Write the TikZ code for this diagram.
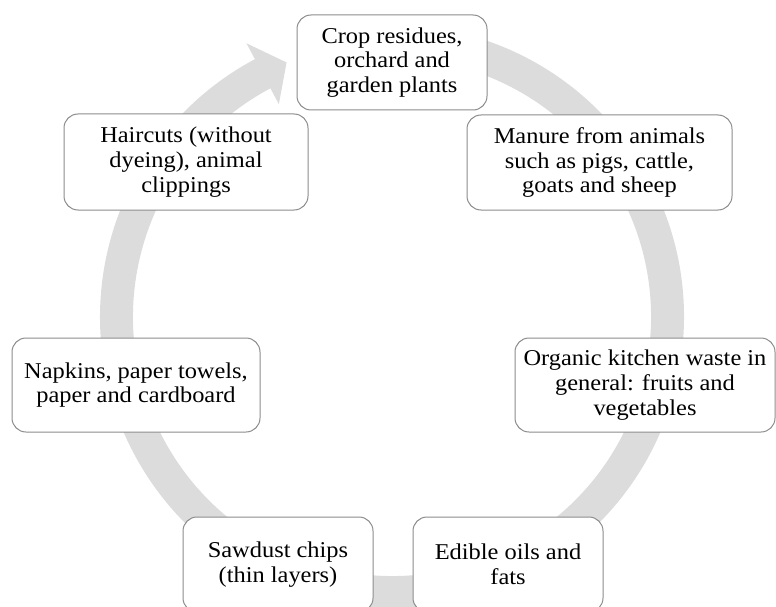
\documentclass[tikz,border=0pt]{standalone}
\usepackage{fontspec}
\setmainfont{Liberation Serif}[FakeStretch=1.08]
\definecolor{ringc}{RGB}{220,220,220}
\definecolor{boxc}{RGB}{140,140,140}
\tikzset{
  box/.style={draw=boxc, line width=1pt, rounded corners=14pt, fill=white,
    align=center, inner sep=0pt, font=\fontsize{22.6}{24.8}\selectfont}
}
\begin{document}
\begin{tikzpicture}[x=1pt,y=1pt]
\clip (0,0) rectangle (776,-607);
% circular arrow
\begin{scope}[shift={(392,-317)}]
\fill[ringc] (118:259pt) arc[start angle=118, end angle=445, radius=259pt]
  -- (445:292pt) arc[start angle=445, end angle=118, radius=292pt]
  -- (118:310pt) -- (112.5:275.5pt) -- (118:241pt) -- cycle;
\end{scope}
% boxes
\node[box, minimum width=190pt, minimum height=95pt] (crop) at (392,-62.5)
  {Crop residues,\\ orchard and\\ garden plants};
\node[box, minimum width=265pt, minimum height=95pt] (manure) at (599.5,-162.5)
  {Manure from animals\\ such as pigs, cattle,\\ goats and sheep};
\node[box, minimum width=260pt, minimum height=94pt] (organic) at (645,-385)
  {Organic kitchen waste in\\ general: fruits and\\ vegetables};
\node[box, minimum width=190pt, minimum height=95pt] (edible) at (508,-564.5)
  {Edible oils and\\ fats};
\node[box, minimum width=190pt, minimum height=95pt] (sawdust) at (278,-564.5)
  {Sawdust chips\\ (thin layers)};
\node[box, minimum width=248pt, minimum height=94pt] (napkins) at (136,-385)
  {Napkins, paper towels,\\ paper and cardboard};
\node[box, minimum width=244pt, minimum height=96pt] (haircuts) at (186,-162)
  {Haircuts (without\\ dyeing), animal\\ clippings};
\end{tikzpicture}
\end{document}
